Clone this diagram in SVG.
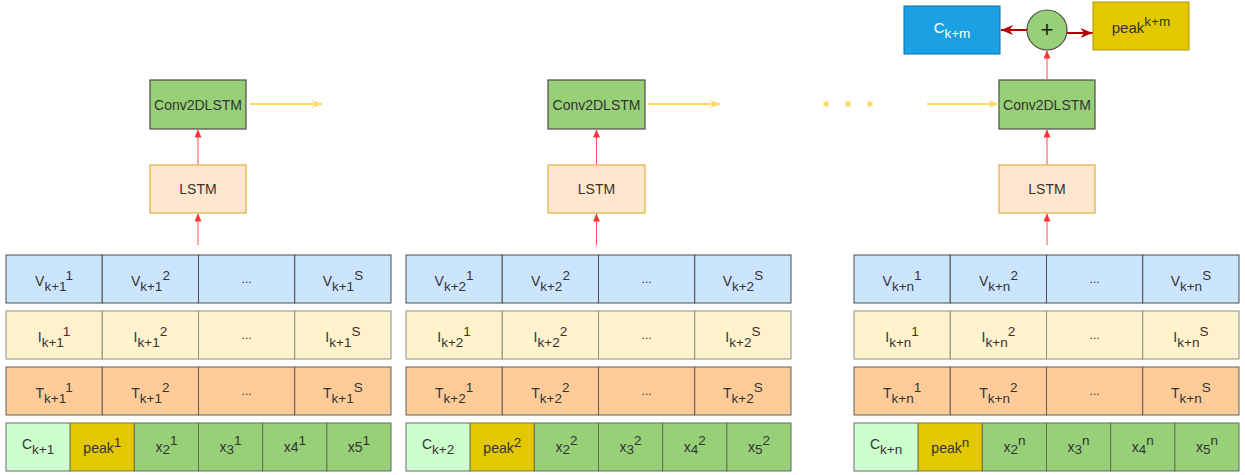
<svg xmlns="http://www.w3.org/2000/svg" width="1245" height="475" viewBox="0 0 1245 475">
<style>
text{font-family:"Liberation Sans",Arial,sans-serif;font-size:14px;fill:#333333;text-anchor:middle}
.s{font-size:13.5px}
.dots{font-size:12px}
.v{fill:#cce5ff;stroke:#4d4d4d}
.i{fill:#fff2cc;stroke:#8c8c8c}
.tt{fill:#ffcc99;stroke:#5e5e5e}
.c{fill:#ccffcc;stroke:#6d6d6d}
.p{fill:#e3c800;stroke:#7a7a4a}
.x{fill:#97d077;stroke:#5f6f5a}
.conv{fill:#97d077;stroke:#4d4d4d;stroke-width:1.2}
.lstm{fill:#ffe6cc;stroke:#e0b040;stroke-width:1.2}
.red{stroke:#ff4d4d;stroke-width:1;fill:none;marker-end:url(#mr)}
.yel{stroke:#ffd966;stroke-width:2;fill:none;marker-end:url(#my)}
.dred{stroke:#b20000;stroke-width:2;fill:none;marker-end:url(#md)}
.dot{fill:#ffd966}
</style>
<defs>
<marker id="mr" viewBox="0 0 8 7" refX="8" refY="3.5" markerWidth="8" markerHeight="7" markerUnits="userSpaceOnUse" orient="auto"><path d="M0,0 L8,3.5 L0,7 z" fill="#ff3333"/></marker>
<marker id="my" viewBox="0 0 10 8" refX="10" refY="4" markerWidth="10" markerHeight="8" markerUnits="userSpaceOnUse" orient="auto"><path d="M0,0 L10,4 L0,8 L3,4 z" fill="#ffd966"/></marker>
<marker id="md" viewBox="0 0 12 10" refX="12" refY="5" markerWidth="12" markerHeight="10" markerUnits="userSpaceOnUse" orient="auto"><path d="M0,0 L12,5 L0,10 L3.5,5 z" fill="#b20000"/></marker>
</defs>

<!-- Column 1 -->
<g id="conv1"><rect class="conv" x="150" y="80" width="96" height="49"/><text x="198" y="109.5">Conv2DLSTM</text></g>
<g id="lstm1"><rect class="lstm" x="150" y="165" width="96" height="48"/><text x="198" y="194">LSTM</text></g>
<g id="v1">
<rect class="v" x="6" y="255" width="96.25" height="48"/><rect class="v" x="102.25" y="255" width="96.25" height="48"/><rect class="v" x="198.5" y="255" width="96.25" height="48"/><rect class="v" x="294.75" y="255" width="96.25" height="48"/>
<text x="54.1" y="286">V<tspan class="s" dy="5">k+1</tspan><tspan class="s" dy="-11">1</tspan></text>
<text x="150.4" y="286">V<tspan class="s" dy="5">k+1</tspan><tspan class="s" dy="-11">2</tspan></text>
<text class="dots" x="246.6" y="283">...</text>
<text x="342.9" y="286">V<tspan class="s" dy="5">k+1</tspan><tspan class="s" dy="-11">S</tspan></text>
</g>
<g id="i1">
<rect class="i" x="6" y="311" width="96.25" height="48"/><rect class="i" x="102.25" y="311" width="96.25" height="48"/><rect class="i" x="198.5" y="311" width="96.25" height="48"/><rect class="i" x="294.75" y="311" width="96.25" height="48"/>
<text x="54.1" y="342">I<tspan class="s" dy="5">k+1</tspan><tspan class="s" dy="-11">1</tspan></text>
<text x="150.4" y="342">I<tspan class="s" dy="5">k+1</tspan><tspan class="s" dy="-11">2</tspan></text>
<text class="dots" x="246.6" y="339">...</text>
<text x="342.9" y="342">I<tspan class="s" dy="5">k+1</tspan><tspan class="s" dy="-11">S</tspan></text>
</g>
<g id="t1">
<rect class="tt" x="6" y="367" width="96.25" height="48"/><rect class="tt" x="102.25" y="367" width="96.25" height="48"/><rect class="tt" x="198.5" y="367" width="96.25" height="48"/><rect class="tt" x="294.75" y="367" width="96.25" height="48"/>
<text x="54.1" y="398">T<tspan class="s" dy="5">k+1</tspan><tspan class="s" dy="-11">1</tspan></text>
<text x="150.4" y="398">T<tspan class="s" dy="5">k+1</tspan><tspan class="s" dy="-11">2</tspan></text>
<text class="dots" x="246.6" y="395">...</text>
<text x="342.9" y="398">T<tspan class="s" dy="5">k+1</tspan><tspan class="s" dy="-11">S</tspan></text>
</g>
<g id="b1">
<rect class="c" x="6" y="423" width="64.17" height="48"/><rect class="p" x="70.17" y="423" width="64.17" height="48"/><rect class="x" x="134.33" y="423" width="64.17" height="48"/><rect class="x" x="198.5" y="423" width="64.17" height="48"/><rect class="x" x="262.67" y="423" width="64.17" height="48"/><rect class="x" x="326.83" y="423" width="64.17" height="48"/>
<text x="38.1" y="449">C<tspan class="s" dy="4.5">k+1</tspan></text>
<text x="102.3" y="453">peak<tspan class="s" dy="-6">1</tspan></text>
<text x="166.4" y="452">x<tspan class="s" dy="2">2</tspan><tspan class="s" dy="-9">1</tspan></text>
<text x="230.6" y="452">x<tspan class="s" dy="2">3</tspan><tspan class="s" dy="-9">1</tspan></text>
<text x="294.8" y="452">x4<tspan class="s" dy="-7">1</tspan></text>
<text x="358.9" y="452">x5<tspan class="s" dy="-7">1</tspan></text>
</g>

<!-- Column 2 -->
<g id="conv2"><rect class="conv" x="548" y="80" width="97" height="49"/><text x="596.5" y="109.5">Conv2DLSTM</text></g>
<g id="lstm2"><rect class="lstm" x="548" y="165" width="97" height="48"/><text x="596.5" y="194">LSTM</text></g>
<g id="v2">
<rect class="v" x="406" y="255" width="96.25" height="48"/><rect class="v" x="502.25" y="255" width="96.25" height="48"/><rect class="v" x="598.5" y="255" width="96.25" height="48"/><rect class="v" x="694.75" y="255" width="96.25" height="48"/>
<text x="454.1" y="286">V<tspan class="s" dy="5">k+2</tspan><tspan class="s" dy="-11">1</tspan></text>
<text x="550.4" y="286">V<tspan class="s" dy="5">k+2</tspan><tspan class="s" dy="-11">2</tspan></text>
<text class="dots" x="646.6" y="283">...</text>
<text x="742.9" y="286">V<tspan class="s" dy="5">k+2</tspan><tspan class="s" dy="-11">S</tspan></text>
</g>
<g id="i2">
<rect class="i" x="406" y="311" width="96.25" height="48"/><rect class="i" x="502.25" y="311" width="96.25" height="48"/><rect class="i" x="598.5" y="311" width="96.25" height="48"/><rect class="i" x="694.75" y="311" width="96.25" height="48"/>
<text x="454.1" y="342">I<tspan class="s" dy="5">k+2</tspan><tspan class="s" dy="-11">1</tspan></text>
<text x="550.4" y="342">I<tspan class="s" dy="5">k+2</tspan><tspan class="s" dy="-11">2</tspan></text>
<text class="dots" x="646.6" y="339">...</text>
<text x="742.9" y="342">I<tspan class="s" dy="5">k+2</tspan><tspan class="s" dy="-11">S</tspan></text>
</g>
<g id="t2">
<rect class="tt" x="406" y="367" width="96.25" height="48"/><rect class="tt" x="502.25" y="367" width="96.25" height="48"/><rect class="tt" x="598.5" y="367" width="96.25" height="48"/><rect class="tt" x="694.75" y="367" width="96.25" height="48"/>
<text x="454.1" y="398">T<tspan class="s" dy="5">k+2</tspan><tspan class="s" dy="-11">1</tspan></text>
<text x="550.4" y="398">T<tspan class="s" dy="5">k+2</tspan><tspan class="s" dy="-11">2</tspan></text>
<text class="dots" x="646.6" y="395">...</text>
<text x="742.9" y="398">T<tspan class="s" dy="5">k+2</tspan><tspan class="s" dy="-11">S</tspan></text>
</g>
<g id="b2">
<rect class="c" x="406" y="423" width="64.17" height="48"/><rect class="p" x="470.17" y="423" width="64.17" height="48"/><rect class="x" x="534.33" y="423" width="64.17" height="48"/><rect class="x" x="598.5" y="423" width="64.17" height="48"/><rect class="x" x="662.67" y="423" width="64.17" height="48"/><rect class="x" x="726.83" y="423" width="64.17" height="48"/>
<text x="438.1" y="449">C<tspan class="s" dy="4.5">k+2</tspan></text>
<text x="502.3" y="453">peak<tspan class="s" dy="-6">2</tspan></text>
<text x="566.4" y="452">x<tspan class="s" dy="2">2</tspan><tspan class="s" dy="-9">2</tspan></text>
<text x="630.6" y="452">x<tspan class="s" dy="2">3</tspan><tspan class="s" dy="-9">2</tspan></text>
<text x="694.8" y="452">x<tspan class="s" dy="2">4</tspan><tspan class="s" dy="-9">2</tspan></text>
<text x="758.9" y="452">x<tspan class="s" dy="2">5</tspan><tspan class="s" dy="-9">2</tspan></text>
</g>

<!-- Column n -->
<g id="conv3"><rect class="conv" x="999" y="80" width="96" height="49"/><text x="1047" y="109.5">Conv2DLSTM</text></g>
<g id="lstm3"><rect class="lstm" x="999" y="165" width="96" height="48"/><text x="1047" y="194">LSTM</text></g>
<g id="v3">
<rect class="v" x="854" y="255" width="96.25" height="48"/><rect class="v" x="950.25" y="255" width="96.25" height="48"/><rect class="v" x="1046.5" y="255" width="96.25" height="48"/><rect class="v" x="1142.75" y="255" width="96.25" height="48"/>
<text x="902.1" y="286">V<tspan class="s" dy="5">k+n</tspan><tspan class="s" dy="-11">1</tspan></text>
<text x="998.4" y="286">V<tspan class="s" dy="5">k+n</tspan><tspan class="s" dy="-11">2</tspan></text>
<text class="dots" x="1094.6" y="283">...</text>
<text x="1190.9" y="286">V<tspan class="s" dy="5">k+n</tspan><tspan class="s" dy="-11">S</tspan></text>
</g>
<g id="i3">
<rect class="i" x="854" y="311" width="96.25" height="48"/><rect class="i" x="950.25" y="311" width="96.25" height="48"/><rect class="i" x="1046.5" y="311" width="96.25" height="48"/><rect class="i" x="1142.75" y="311" width="96.25" height="48"/>
<text x="902.1" y="342">I<tspan class="s" dy="5">k+n</tspan><tspan class="s" dy="-11">1</tspan></text>
<text x="998.4" y="342">I<tspan class="s" dy="5">k+n</tspan><tspan class="s" dy="-11">2</tspan></text>
<text class="dots" x="1094.6" y="339">...</text>
<text x="1190.9" y="342">I<tspan class="s" dy="5">k+n</tspan><tspan class="s" dy="-11">S</tspan></text>
</g>
<g id="t3">
<rect class="tt" x="854" y="367" width="96.25" height="48"/><rect class="tt" x="950.25" y="367" width="96.25" height="48"/><rect class="tt" x="1046.5" y="367" width="96.25" height="48"/><rect class="tt" x="1142.75" y="367" width="96.25" height="48"/>
<text x="902.1" y="398">T<tspan class="s" dy="5">k+n</tspan><tspan class="s" dy="-11">1</tspan></text>
<text x="998.4" y="398">T<tspan class="s" dy="5">k+n</tspan><tspan class="s" dy="-11">2</tspan></text>
<text class="dots" x="1094.6" y="395">...</text>
<text x="1190.9" y="398">T<tspan class="s" dy="5">k+n</tspan><tspan class="s" dy="-11">S</tspan></text>
</g>
<g id="b3">
<rect class="c" x="854" y="423" width="64.17" height="48"/><rect class="p" x="918.17" y="423" width="64.17" height="48"/><rect class="x" x="982.33" y="423" width="64.17" height="48"/><rect class="x" x="1046.5" y="423" width="64.17" height="48"/><rect class="x" x="1110.67" y="423" width="64.17" height="48"/><rect class="x" x="1174.83" y="423" width="64.17" height="48"/>
<text x="886.1" y="449">C<tspan class="s" dy="4.5">k+n</tspan></text>
<text x="950.3" y="453">peak<tspan class="s" dy="-6">n</tspan></text>
<text x="1014.4" y="452">x<tspan class="s" dy="2">2</tspan><tspan class="s" dy="-9">n</tspan></text>
<text x="1078.6" y="452">x<tspan class="s" dy="2">3</tspan><tspan class="s" dy="-9">n</tspan></text>
<text x="1142.8" y="452">x<tspan class="s" dy="2">4</tspan><tspan class="s" dy="-9">n</tspan></text>
<text x="1206.9" y="452">x<tspan class="s" dy="2">5</tspan><tspan class="s" dy="-9">n</tspan></text>
</g>

<!-- Output -->
<g id="sum"><circle cx="1047" cy="30" r="20" fill="#97d077" stroke="#4d4d4d" stroke-width="1.2"/><text x="1047" y="37" style="font-size:22px;fill:#1a1a1a">+</text></g>
<g id="cout"><rect x="904" y="6" width="96" height="48" fill="#1ba1e2" stroke="#006eaf"/><text x="952" y="33" style="fill:#ffffff;font-size:15px">C<tspan class="s" dy="5" style="fill:#ffffff">k+m</tspan></text></g>
<g id="pout"><rect x="1093" y="2" width="96" height="48" fill="#e3c800" stroke="#b09500"/><text x="1141" y="33" style="font-size:15px">peak<tspan class="s" dy="-7">k+m</tspan></text></g>

<!-- Ellipsis dots -->
<g id="ellipsis">
<rect class="dot" x="823.5" y="101.5" width="5" height="5"/>
<rect class="dot" x="845.5" y="101.5" width="5" height="5"/>
<rect class="dot" x="867.5" y="101.5" width="5" height="5"/>
</g>

<g id="connectors">
<line class="red" x1="198" y1="245" x2="198" y2="213.5"/>
<line class="red" x1="198" y1="164.5" x2="198" y2="129.5"/>
<line class="red" x1="596.5" y1="245" x2="596.5" y2="213.5"/>
<line class="red" x1="596.5" y1="164.5" x2="596.5" y2="129.5"/>
<line class="red" x1="1047" y1="245" x2="1047" y2="213.5"/>
<line class="red" x1="1047" y1="164.5" x2="1047" y2="129.5"/>
<line class="red" x1="1047" y1="79.5" x2="1047" y2="50.5"/>
<line class="yel" x1="250" y1="104" x2="322" y2="104"/>
<line class="yel" x1="648" y1="104" x2="720" y2="104"/>
<line class="yel" x1="927" y1="104" x2="998.5" y2="104"/>
<line class="dred" x1="1027" y1="30" x2="1001" y2="30"/>
<line class="dred" x1="1067" y1="33" x2="1092.5" y2="33"/>
</g>
</svg>
